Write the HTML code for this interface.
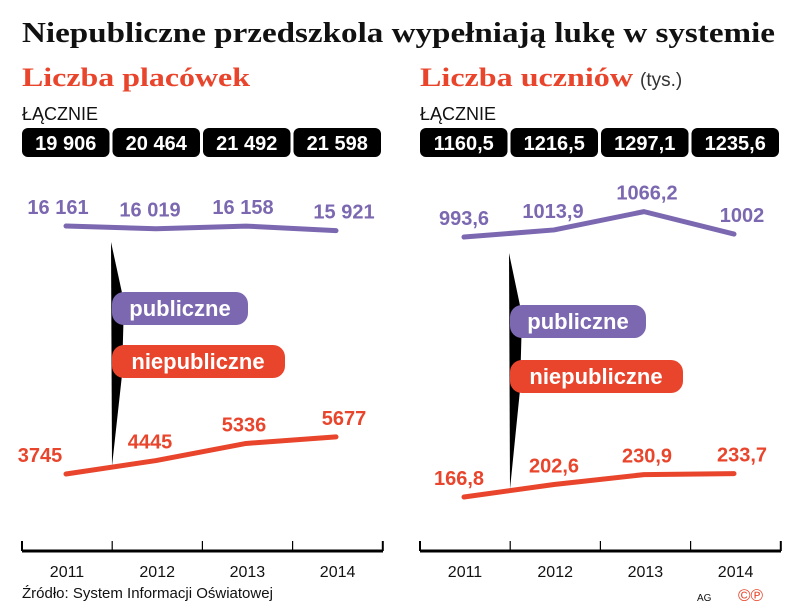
<!DOCTYPE html>
<html><head><meta charset="utf-8"><style>
body{margin:0;background:#fff;width:805px;height:606px;overflow:hidden;font-family:"Liberation Sans","DejaVu Sans",sans-serif}
</style></head><body>
<svg width="805" height="606" xmlns="http://www.w3.org/2000/svg" id="chart">
<text x="22" y="42" font-family="Liberation Serif,serif" font-weight="bold" font-size="29" fill="#111" textLength="753" lengthAdjust="spacingAndGlyphs">Niepubliczne przedszkola wypełniają lukę w systemie</text>
<text x="22" y="86" font-family="Liberation Serif,serif" font-weight="bold" font-size="26" fill="#e8452c" textLength="228" lengthAdjust="spacingAndGlyphs">Liczba placówek</text>
<text x="420" y="86" font-family="Liberation Serif,serif" font-weight="bold" font-size="26" fill="#e8452c" textLength="213" lengthAdjust="spacingAndGlyphs">Liczba uczniów</text>
<text x="640" y="86" font-size="19" fill="#333">(tys.)</text>
<text x="22" y="120" font-size="18" fill="#111">ŁĄCZNIE</text>
<text x="420" y="120" font-size="18" fill="#111">ŁĄCZNIE</text>
<g id="g"></g>
<text x="22" y="598" font-size="15" fill="#111">Źródło: System Informacji Oświatowej</text>
<text x="697" y="601" font-size="10" fill="#111">AG</text>
<text x="738" y="601" font-size="17" fill="#e8452c">©℗</text>
</svg>
<script>
const years=["2011","2012","2013","2014"];
const leftTotals=["19 906","20 464","21 492","21 598"];
const rightTotals=["1160,5","1216,5","1297,1","1235,6"];
const leftPublic=[16161,16019,16158,15921];
const leftPrivate=[3745,4445,5336,5677];
const rightPublic=[993.6,1013.9,1066.2,1002];
const rightPrivate=[166.8,202.6,230.9,233.7];
const leftPublicLabels=["16 161","16 019","16 158","15 921"];
const leftPrivateLabels=["3745","4445","5336","5677"];
const rightPublicLabels=["993,6","1013,9","1066,2","1002"];
const rightPrivateLabels=["166,8","202,6","230,9","233,7"];
const NS="http://www.w3.org/2000/svg",g=document.getElementById('g');
const P="#7b68b0",R="#e8452c";
function mk(t,a,txt){const e=document.createElementNS(NS,t);for(const k in a)e.setAttribute(k,a[k]);if(txt!=null)e.textContent=txt;g.appendChild(e);return e;}
function panel(x0,totals,pub,prv,pubL,prvL,yPub,yPrv,pill1,pill2,name,dxPub,dxPrv){
  const w=90.5;
  const px=i=>x0+44+i*90;
  totals.forEach((t,i)=>{
    const r=mk('rect',{x:x0+i*w,y:128,width:w-3,height:29,rx:6,fill:'#000'});
    
    const tx=mk('text',{x:x0+i*w+(w-3)/2,y:150,'text-anchor':'middle','font-size':20,'font-weight':'bold',fill:'#fff'},t);
    
  });
  const wx=x0+90;
  const wd=mk('polygon',{points:`${wx-1},${yPub(pub[0])+16} ${wx+12},${pill1+10} ${wx+10},${pill2+30} ${wx},${yPrv(prv[0])-8}`,fill:'#000'});
  
  function series(vals,labs,ys,col,s,dx){
    const pts=vals.map((v,i)=>px(i)+','+ys(v)).join(' ');
    const l=mk('polyline',{points:pts,fill:'none',stroke:col,'stroke-width':5,'stroke-linecap':'round','stroke-linejoin':'round'});
    
    vals.forEach((v,i)=>{
      const t=mk('text',{x:px(i)+dx[i],y:ys(v)-12,'text-anchor':'middle','font-size':20,'font-weight':'bold',fill:col},labs[i]);
      
    });
  }
  series(pub,pubL,yPub,P,'public',dxPub);
  series(prv,prvL,yPrv,R,'private',dxPrv);
  const p1=mk('rect',{x:wx,y:pill1,width:136,height:33,rx:12,fill:P});
  
  const t1=mk('text',{x:wx+68,y:pill1+24,'text-anchor':'middle','font-size':22,'font-weight':'bold',fill:'#fff'},'publiczne');
  
  const p2=mk('rect',{x:wx,y:pill2,width:173,height:33,rx:12,fill:R});
  
  const t2=mk('text',{x:wx+86,y:pill2+24,'text-anchor':'middle','font-size':22,'font-weight':'bold',fill:'#fff'},'niepubliczne');
  
  const ax=mk('line',{x1:x0,x2:x0+361,y1:551,y2:551,stroke:'#000','stroke-width':3});
  
  for(let i=0;i<=4;i++){const tk=mk('line',{x1:x0+i*90.2,x2:x0+i*90.2,y1:541,y2:551,stroke:'#000','stroke-width':i%4?1.2:2});
    }
  years.forEach((y,i)=>{const t=mk('text',{x:x0+45+i*90.2,y:577,'text-anchor':'middle','font-size':16,fill:'#111'},y);
    });
}
panel(22,leftTotals,leftPublic,leftPrivate,leftPublicLabels,leftPrivateLabels,
  v=>536.3-v*0.0192,v=>545.9-v*0.0192,292,345,'left',[-8,-6,-3,8],[-26,-6,-2,8]);
panel(420,rightTotals,rightPublic,rightPrivate,rightPublicLabels,rightPrivateLabels,
  v=>584.8-v*0.35,v=>555.4-v*0.35,305,360,'right',[0,-1,3,8],[-5,0,3,8]);
</script>
</body></html>
